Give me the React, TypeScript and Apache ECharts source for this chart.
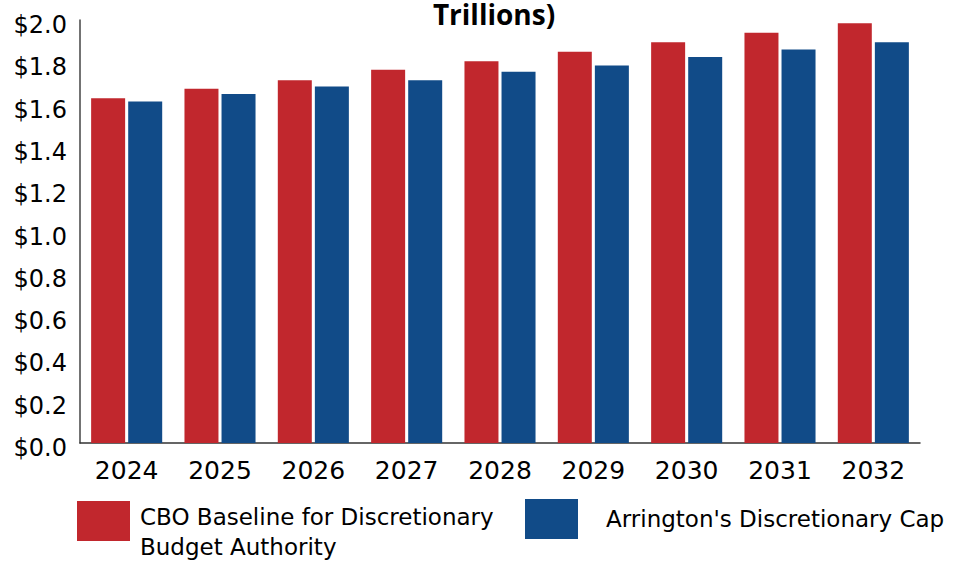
import React, { useEffect, useRef } from "react";
import * as echarts from "echarts";

const years = ["2024", "2025", "2026", "2027", "2028", "2029", "2030", "2031", "2032"];
const cboBaseline = [1.63, 1.675, 1.715, 1.765, 1.805, 1.85, 1.895, 1.94, 1.985];
const arringtonCap = [1.615, 1.65, 1.685, 1.715, 1.755, 1.785, 1.825, 1.86, 1.895];
const seriesNames = ["CBO Baseline for Discretionary Budget Authority", "Arrington's Discretionary Cap"];
const titleText = "Trillions)";

const RED = "#C1272D";
const BLUE = "#114B88";
const FONT = "'DejaVu Sans', sans-serif";

export default function App() {
  const ref = useRef<HTMLDivElement>(null);
  useEffect(() => {
    if (!ref.current) return;
    const chart = echarts.init(ref.current, undefined, { renderer: "svg" });
    chart.setOption({
      animation: false,
      backgroundColor: "#fff",
      graphic: [
        {
          type: "text",
          x: 494,
          y: 28,
          style: {
            text: titleText,
            font: "bold 28px 'Open Sans', sans-serif",
            fill: "#000",
            textAlign: "center",
            textVerticalAlign: "bottom",
          },
        },
      ],
      grid: { left: 80, right: 36, top: 20, bottom: 120, containLabel: false },
      legend: [
        {
          data: [seriesNames[0]],
          left: 72,
          top: 481,
          itemWidth: 53,
          itemHeight: 40,
          icon: "rect",
          selectedMode: false,
          formatter: () => "{e| }\n{t|CBO Baseline for Discretionary}\n{t|Budget Authority}",
          textStyle: {
            fontFamily: FONT,
            fontSize: 23,
            color: "#000",
            padding: [0, 0, 0, 5],
            rich: {
              e: { lineHeight: 22, fontSize: 10 },
              t: { fontFamily: FONT, fontSize: 23, color: "#000", lineHeight: 30 },
            },
          },
        },
        {
          data: [seriesNames[1]],
          left: 520,
          top: 494,
          itemWidth: 53,
          itemHeight: 40,
          icon: "rect",
          selectedMode: false,
          textStyle: { fontFamily: FONT, fontSize: 23, color: "#000", padding: [0, 0, 0, 23] },
        },
      ],
      xAxis: {
        type: "category",
        data: years,
        axisLine: { lineStyle: { color: "#333", width: 1.5 } },
        axisTick: { show: false },
        axisLabel: { fontFamily: FONT, fontSize: 25, color: "#000", margin: 15 },
      },
      yAxis: {
        type: "value",
        min: 0,
        max: 2,
        interval: 0.2,
        axisLine: { show: true, lineStyle: { color: "#444", width: 1.5 } },
        axisTick: { show: false },
        splitLine: { show: false },
        axisLabel: {
          fontFamily: FONT,
          fontSize: 24,
          color: "#000",
          margin: 13,
          verticalAlign: "top",
          lineHeight: 10,
          formatter: (v: number) => "$" + v.toFixed(1),
        },
      },
      series: [
        {
          name: seriesNames[0],
          type: "bar",
          data: cboBaseline,
          barWidth: 34,
          barGap: "9%",
          itemStyle: { color: RED },
        },
        {
          name: seriesNames[1],
          type: "bar",
          data: arringtonCap,
          barWidth: 34,
          barGap: "9%",
          itemStyle: { color: BLUE },
        },
      ],
    });
    return () => chart.dispose();
  }, []);
  return <div ref={ref} style={{ position: "absolute", left: 0, top: 0, width: 956, height: 563 }} />;
}
